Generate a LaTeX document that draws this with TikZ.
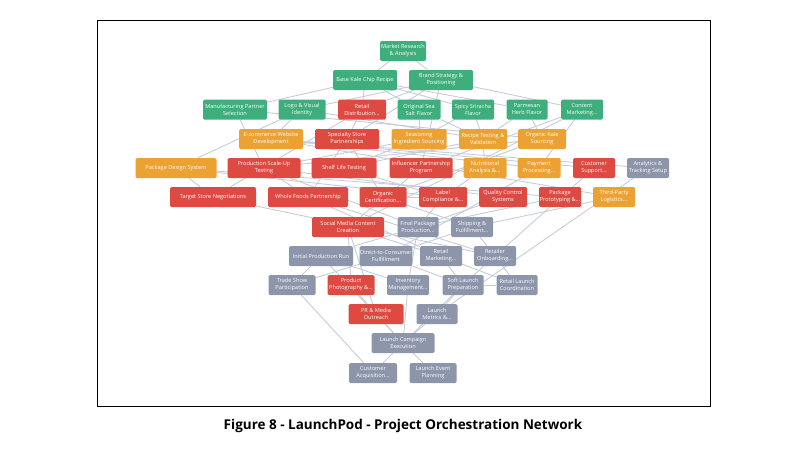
\documentclass[tikz,border=0pt]{standalone}
\usepackage{fontspec}
\setmainfont{Open Sans}
\usetikzlibrary{backgrounds}
\begin{document}
\begin{tikzpicture}[x=1pt,y=-1pt,
 nb/.style={rounded corners=1.5pt,minimum height=20pt,inner sep=0.5pt,align=center,text=white,font=\fontsize{5.6}{7}\selectfont},
 gn/.style={nb,fill=gnc},rd/.style={nb,fill=rdc},og/.style={nb,fill=ogc},gy/.style={nb,fill=gyc},
 ed/.style={draw=edc,line width=0.9pt}]
\definecolor{gnc}{HTML}{3DAE7C}\definecolor{rdc}{HTML}{DE4942}\definecolor{ogc}{HTML}{EBA232}
\definecolor{gyc}{HTML}{8C95AA}\definecolor{edc}{HTML}{C6CCD8}
\useasboundingbox (0,0) rectangle (806,453);
\draw[line width=0.8pt] (97,20) rectangle (710,406);
\node[font=\bfseries\fontsize{13.5}{15}\selectfont] (cap) at (403,426) {Figure 8 - LaunchPod - Project Orchestration Network};
% nodes
\node[gn,minimum width=46pt] (mr) at (403,51) {Market Research\\\& Analysis};
\node[gn,minimum width=64pt] (bkc) at (365,80) {Base Kale Chip Recipe};
\node[gn,minimum width=64pt] (bs) at (441,80) {Brand Strategy \&\\Positioning};
\node[gn,minimum width=64pt] (mps) at (235,109.5) {Manufacturing Partner\\Selection};
\node[gn,minimum width=47pt] (logo) at (302,109.5) {Logo \& Visual\\Identity};
\node[rd,minimum width=48pt] (rdist) at (362,109.5) {Retail\\Distribution...};
\node[gn,minimum width=43pt] (oss) at (419,109.5) {Original Sea\\Salt Flavor};
\node[gn,minimum width=42pt] (ssf) at (473,109.5) {Spicy Sriracha\\Flavor};
\node[gn,minimum width=41pt] (phf) at (527,109.5) {Parmesan\\Herb Flavor};
\node[gn,minimum width=42pt] (cm) at (582,109.5) {Content\\Marketing...};
\node[og,minimum width=64pt] (ecom) at (271,139) {E-commerce Website\\Development};
\node[rd,minimum width=64pt] (ssp) at (347,139) {Specialty Store\\Partnerships};
\node[og,minimum width=55pt] (seas) at (419,139) {Seasoning\\Ingredient Sourcing};
\node[og,minimum width=48pt] (rtv) at (483,139) {Recipe Testing \&\\Validation};
\node[og,minimum width=48pt] (okale) at (542,139) {Organic Kale\\Sourcing};
\node[og,minimum width=81pt] (pds) at (176,168) {Package Design System};
\node[rd,minimum width=73pt] (psut) at (264,168) {Production Scale-Up\\Testing};
\node[rd,minimum width=65pt] (shelf) at (344,168) {Shelf Life Testing};
\node[rd,minimum width=63pt] (infl) at (421,168) {Influencer Partnership\\Program};
\node[og,minimum width=43pt] (nutr) at (485,168) {Nutritional\\Analysis \&...};
\node[og,minimum width=43pt] (pay) at (539,168) {Payment\\Processing...};
\node[rd,minimum width=42pt] (csup) at (594,168) {Customer\\Support...};
\node[gy,minimum width=42pt] (anal) at (648,168) {Analytics \&\\Tracking Setup};
\node[rd,minimum width=86pt] (tsn) at (213,197) {Target Store Negotiations};
\node[rd,minimum width=80pt] (wf) at (308,197) {Whole Foods Partnership};
\node[rd,minimum width=47pt] (ocert) at (383,197) {Organic\\Certification...};
\node[rd,minimum width=48pt] (label) at (443,197) {Label\\Compliance \&...};
\node[rd,minimum width=48pt] (qc) at (503,197) {Quality Control\\Systems};
\node[rd,minimum width=42pt] (pp) at (560,197) {Package\\Prototyping \&...};
\node[og,minimum width=42pt] (tpl) at (614,197) {Third-Party\\Logistics...};
\node[rd,minimum width=72pt] (smc) at (348,227) {Social Media Content\\Creation};
\node[gy,minimum width=41pt] (fpp) at (418,227) {Final Package\\Production...};
\node[gy,minimum width=42pt] (ship) at (472,227) {Shipping \&\\Fulfillment...};
\node[gy,minimum width=64pt] (ipr) at (321,256) {Initial Production Run};
\node[gy,minimum width=43pt] (dtc) at (386,256) {Direct-to-Consumer\\Fulfillment};
\node[gy,minimum width=42pt] (rm) at (441,256) {Retail\\Marketing...};
\node[gy,minimum width=42pt] (ro) at (495,256) {Retailer\\Onboarding...};
\node[gy,minimum width=47pt] (tsp) at (292,285) {Trade Show\\Participation};
\node[rd,minimum width=47pt] (photo) at (351,285) {Product\\Photography \&...};
\node[gy,minimum width=42pt] (inv) at (408,285) {Inventory\\Management...};
\node[gy,minimum width=41pt] (slp) at (463,285) {Soft Launch\\Preparation};
\node[gy,minimum width=41pt] (rlc) at (517,285) {Retail Launch\\Coordination};
\node[rd,minimum width=55pt] (pr) at (376,314) {PR \& Media\\Outreach};
\node[gy,minimum width=41pt] (lm) at (437,314) {Launch\\Metrics \&...};
\node[gy,minimum width=63pt] (lce) at (403,343) {Launch Campaign\\Execution};
\node[gy,minimum width=48pt] (ca) at (373,373) {Customer\\Acquisition...};
\node[gy,minimum width=47pt] (lep) at (433,373) {Launch Event\\Planning};
% edges
\begin{scope}[on background layer]
\foreach \a/\b in {mr/bkc,mr/bs,bkc/mps,bkc/oss,bkc/ssf,bkc/phf,bkc/rdist,bs/logo,bs/rdist,bs/cm,bs/ssp,bs/infl,
 mps/psut,mps/okale,logo/ecom,logo/pds,logo/rtv,rdist/ssp,rdist/tsn,oss/seas,oss/rtv,ssf/rtv,ssf/seas,phf/okale,phf/rtv,cm/infl,cm/smc,cm/pay,
 ecom/pay,ecom/csup,ecom/anal,ecom/tpl,ssp/wf,ssp/ocert,seas/psut,seas/shelf,rtv/nutr,rtv/shelf,okale/ocert,okale/psut,
 pds/pp,pds/label,pds/tsn,psut/wf,psut/qc,psut/fpp,shelf/label,nutr/label,infl/smc,pay/dtc,csup/ro,anal/lm,
 tsn/ro,wf/ro,wf/rm,ocert/label,label/fpp,qc/fpp,pp/fpp,tpl/ship,ocert/ship,
 smc/rm,smc/photo,fpp/ipr,ship/dtc,ship/ro,fpp/inv,smc/pr,
 ipr/inv,ipr/tsp,ipr/lce,dtc/slp,dtc/tsp,rm/slp,rm/rlc,ro/rlc,ro/slp,
 photo/pr,inv/lce,slp/lm,slp/lce,rlc/slp,pr/lce,tsp/ca,lce/ca,lce/lep,lm/lce}
 {\draw[ed] (\a) -- (\b);}
\end{scope}
\end{tikzpicture}
\end{document}
